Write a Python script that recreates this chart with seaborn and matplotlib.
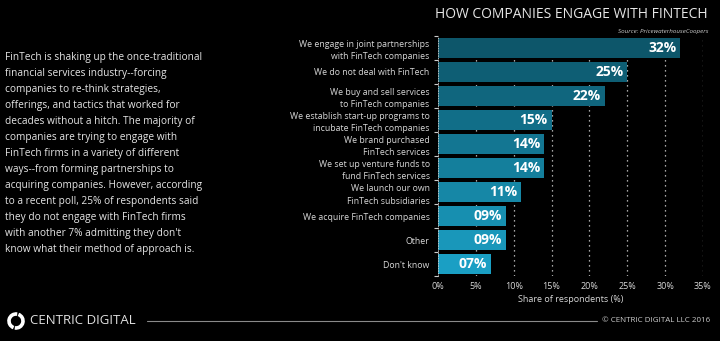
import matplotlib
matplotlib.use("Agg")
import matplotlib.pyplot as plt
import seaborn as sns
import pandas as pd
from matplotlib.patches import Arc
from matplotlib.ticker import FixedLocator

categories = [
    "We engage in joint partnerships\nwith FinTech companies",
    "We do not deal with FinTech",
    "We buy and sell services\nto FinTech companies",
    "We establish start-up programs to\nincubate FinTech companies",
    "We brand purchased\nFinTech services",
    "We set up venture funds to\nfund FinTech services",
    "We launch our own\nFinTech subsidiaries",
    "We acquire FinTech companies",
    "Other",
    "Don't know",
]
values = [32, 25, 22, 15, 14, 14, 11, 9, 9, 7]
value_labels = ["32%", "25%", "22%", "15%", "14%", "14%", "11%", "09%", "09%", "07%"]
xticks = [0, 5, 10, 15, 20, 25, 30, 35]
xtick_labels = ["0%", "5%", "10%", "15%", "20%", "25%", "30%", "35%"]

title = "HOW COMPANIES ENGAGE WITH FINTECH"
source = "Source: PricewaterhouseCoopers"
xlabel = "Share of respondents (%)"
paragraph = ("FinTech is shaking up the once-traditional\n"
             "financial services industry--forcing\n"
             "companies to re-think strategies,\n"
             "offerings, and tactics that worked for\n"
             "decades without a hitch. The majority of\n"
             "companies are trying to engage with\n"
             "FinTech firms in a variety of different\n"
             "ways--from forming partnerships to\n"
             "acquiring companies. However, according\n"
             "to a recent poll, 25% of respondents said\n"
             "they do not engage with FinTech firms\n"
             "with another 7% admitting they don't\n"
             "know what their method of approach is.")

sns.set_theme(style="dark")
plt.rcParams["font.family"] = ["Open Sans", "DejaVu Sans"]

df = pd.DataFrame({"category": categories, "value": values})
palette = sns.blend_palette(["#0d566a", "#1a9fc4"], n_colors=len(categories))

W, H = 720, 341
fig = plt.figure(figsize=(7.2, 3.41), dpi=100, facecolor="black")

ax_l, ax_r, ax_t, ax_b = 438, 703, 36, 276
ax = fig.add_axes([ax_l / W, 1 - ax_b / H, (ax_r - ax_l) / W, (ax_b - ax_t) / H])
ax.set_facecolor("black")

sns.barplot(data=df, x="value", y="category", hue="category", palette=palette,
            legend=False, orient="h", width=0.8, ax=ax, zorder=2, saturation=1,
            edgecolor="none", linewidth=0)

ax.set_xlim(0, 35)
ax.set_ylim(len(categories) - 0.5, -0.5)
ax.set_xticks(xticks)
ax.set_xticklabels(xtick_labels, color="#d8d8d8", fontsize=6.5)
ax.tick_params(axis="x", length=0, pad=4)
ax.tick_params(axis="y", which="major", length=0, pad=6, labelsize=6.3, labelcolor="#d8d8d8")
ax.yaxis.set_minor_locator(FixedLocator([i + 0.5 for i in range(-1, len(categories))]))
ax.tick_params(axis="y", which="minor", length=3, width=0.8, color="#cccccc", left=True)
for lbl in ax.get_yticklabels():
    lbl.set_multialignment("right")
    lbl.set_linespacing(1.5)
ax.set_ylabel("")
ax.set_xlabel(xlabel, color="#d8d8d8", fontsize=6.5, labelpad=3)

ax.grid(False)
for x in xticks[1:]:
    ax.axvline(x, color="#dddddd", linestyle=(0, (1, 3)), linewidth=0.9, zorder=1)
for s in ["top", "right", "bottom"]:
    ax.spines[s].set_visible(False)
ax.spines["left"].set_visible(True)
ax.spines["left"].set_color("#cccccc")
ax.spines["left"].set_linewidth(0.6)
ax.spines["left"].set_linestyle((0, (1, 2)))

for i, (v, lab) in enumerate(zip(values, value_labels)):
    ax.text(v - 0.5, i, lab, ha="right", va="center", color="white",
            fontsize=10, fontweight="bold")

# Title and source
fig.text(708 / W, 1 - 15 / H, title, ha="right", va="center", color="#e6e6e6", fontsize=10)
fig.text(708 / W, 1 - 31 / H, source, ha="right", va="center", color="#cccccc",
         fontsize=4.5, style="italic")

# Paragraph
fig.text(5 / W, 1 - 52 / H, paragraph, ha="left", va="top", color="#e6e6e6",
         fontsize=7.3, linespacing=1.62)

# Footer
fig.add_artist(plt.Line2D([147 / W, 597 / W], [1 - 321 / H, 1 - 321 / H],
                          color="#8a8a8a", linewidth=0.8))
fig.text(30 / W, 1 - 321 / H, "CENTRIC DIGITAL", ha="left", va="center",
         color="#e0e0e0", fontsize=9.5)
fig.text(710 / W, 1 - 321 / H, "\u00a9 CENTRIC DIGITAL LLC 2016", ha="right", va="center",
         color="#cccccc", fontsize=5.8)

# Logo
lax = fig.add_axes([6 / W, 1 - 331 / H, 20 / W, 20 / H])
lax.set_xlim(-1, 1)
lax.set_ylim(-1, 1)
lax.set_aspect("equal")
lax.axis("off")
lax.add_patch(Arc((0, 0), 1.4, 1.4, theta1=80, theta2=250, color="white", linewidth=2.6))
lax.add_patch(Arc((0, 0), 1.4, 1.4, theta1=260, theta2=430, color="white", linewidth=2.6))

fig.savefig("out.png", dpi=100, facecolor="black")
